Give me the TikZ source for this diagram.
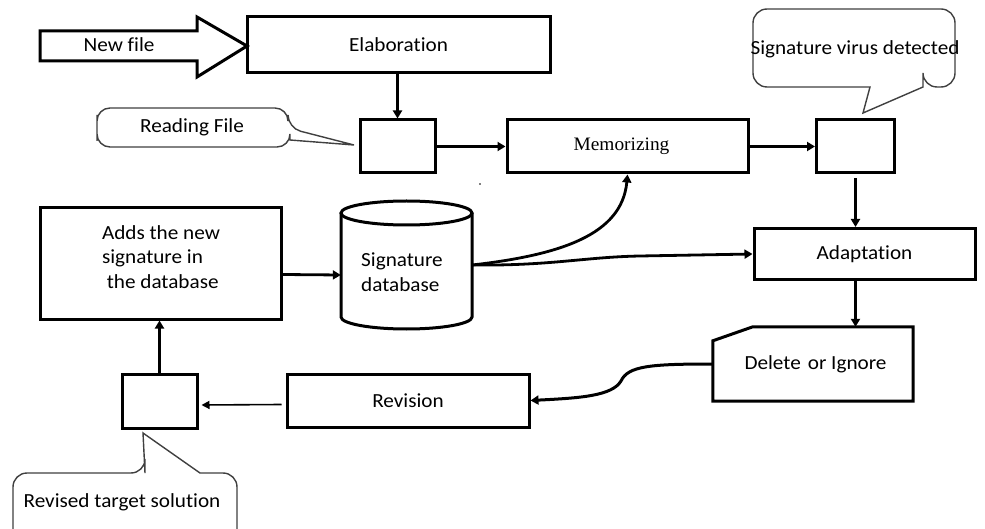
\documentclass[tikz,border=0pt]{standalone}
\usepackage{fontspec}
\setmainfont{Carlito}[FakeStretch=1.06, Ligatures=NoCommon]
\newfontfamily\timesfont{Liberation Serif}[FakeStretch=1.02]
\usetikzlibrary{arrows.meta,calc}
\begin{document}
\begin{tikzpicture}[x=1pt,y=1pt,
  txt/.style={font=\fontsize{20}{24.5}\selectfont, inner sep=0pt},
  boxnode/.style={draw, line width=3pt, rectangle, inner sep=0pt, font=\fontsize{20}{24.5}\selectfont},
  plain/.style={draw=none, rectangle, inner sep=0pt, font=\fontsize{20}{24.5}\selectfont},
  outline/.style={line width=3pt, line join=miter},
  callout/.style={draw=black!75, line width=1.4pt},
  conn/.style={line width=2.8pt, -{Triangle[length=8pt,width=9pt]}},
  thinconn/.style={line width=1.6pt, -{Triangle[length=8pt,width=8pt]}}]
\clip (0,0) rectangle (985,-529);
\fill[white] (0,0) rectangle (985,-529);

% New file block arrow
\draw[outline] (40,-31) -- (197,-31) -- (197,-17) -- (247,-46) -- (197,-77) -- (197,-61) -- (40,-61) -- cycle;
\node[txt] (newf) at (119,-45) {New file};

% boxes
\node[boxnode, minimum width=303pt, minimum height=56pt] (elab) at (398.5,-45) {Elaboration};
\node[boxnode, minimum width=75pt, minimum height=53pt] (box1) at (397.5,-146.5) {};
\node[boxnode, minimum width=241pt, minimum height=53pt, font=\timesfont\fontsize{19}{24}\selectfont] (mem) at (627.5,-146.5) {\hspace{-12pt}Memorizing};
\node[boxnode, minimum width=78pt, minimum height=53pt] (box2) at (855.5,-146.5) {};
\node[boxnode, minimum width=221pt, minimum height=51pt] (adapt) at (864.5,-254) {Adaptation};
\node[plain, minimum width=200pt, minimum height=74pt] (del) at (813,-364) {\hspace{5pt}Delete\hspace{0.35em}or Ignore};
\draw[outline] ($(del.north west)+(0,-14)$) -- ($(del.north west)+(40,0)$) -- (del.north east) -- (del.south east) -- (del.south west) -- cycle;
\node[boxnode, minimum width=242pt, minimum height=53pt] (rev) at (408,-400.5) {Revision};
\node[boxnode, minimum width=75pt, minimum height=54pt] (box3) at (159.5,-401) {};
\node[boxnode, minimum width=241pt, minimum height=111pt] (adds) at (161,-263.5) {};
\node[txt, align=left] (addst) at (161,-257) {Adds the new\\signature in\\\ the database};

% cylinder
\node[plain, minimum width=131pt, minimum height=128pt] (db) at (406.5,-265) {};
\draw[outline] (406.5,-213) ellipse [x radius=65.5, y radius=12];
\draw[outline] (341,-213) -- (341,-317) arc[start angle=180, end angle=360, x radius=65.5, y radius=12] -- (472,-213);
\node[txt, align=left] (dbt) at (402,-272) {Signature\\database};

% callouts
\draw[callout, rounded corners=13pt] (97,-128) |- (288,-108) -- (288,-128) [sharp corners] -- (354,-145) -- (290,-140) [rounded corners=13pt] |- (97,-147) -- cycle;
\node[txt] (readt) at (192,-127) {Reading File};

\draw[callout, rounded corners=14pt] (753,-50) |- (955,-9) -- (955,-87) -- (923,-87) [sharp corners] -- (923,-87) -- (863,-113) -- (870,-87) [rounded corners=14pt] -| (753,-50) -- cycle;
\node[txt] (sigt) at (855,-49) {Signature virus detected};

\draw[callout, rounded corners=14pt] (13,-520) |- (145,-473) [sharp corners] -- (145,-473) -- (143,-433) -- (200,-473) [rounded corners=14pt] -| (237,-545) -- (13,-545) -- cycle;
\node[txt] (revt) at (122,-502) {Revised target solution};

% connectors
\draw[conn] (box1.north |- elab.south) -- (box1.north);
\draw[conn] (box1.east) -- (mem.west);
\draw[conn] (mem.east) -- (box2.west);
\draw[conn, shorten <=4pt] (box2.south) -- (box2.south |- adapt.north);
\draw[conn] (box2.south |- adapt.south) -- (box2.south |- del.north);
\draw[conn, line width=3pt] (del.west) .. controls (650,-364) and (628,-366) .. (621,-381) .. controls (612,-396) and (580,-398) .. (rev.east);
\draw[thinconn] ([shift={(-4pt,-4pt)}]rev.west) -- ([shift={(3pt,-4pt)}]box3.east);
\draw[conn] (box3.north) -- (box3.north |- adds.south);
\draw[conn] ([yshift=-11pt]adds.east) -- ([yshift=-10pt]db.west);
\draw[conn] (db.east) .. controls (560,-255) and (622,-235) .. (mem.south);
\draw[conn] (db.east) .. controls (550,-266) and (585,-257) .. (640,-256) -- (adapt.west);

\fill (480,-184) circle (0.9);
\end{tikzpicture}
\end{document}
